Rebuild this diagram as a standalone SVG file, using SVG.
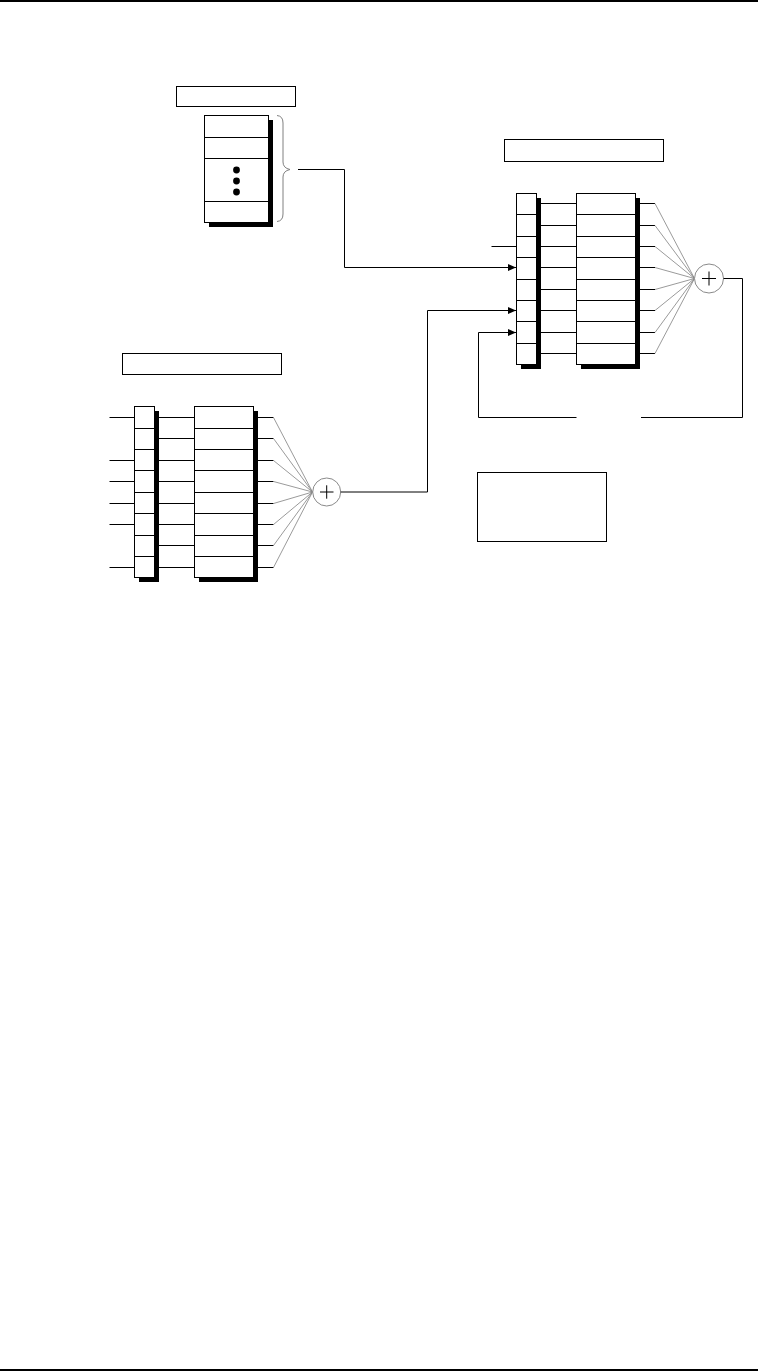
<svg xmlns="http://www.w3.org/2000/svg" width="758" height="1371" viewBox="0 0 758 1371">
<style>
.box{fill:#fff;stroke:#000;stroke-width:1}
.sh{fill:#000}
.ln{fill:none;stroke:#000;stroke-width:1}
.fan{fill:none;stroke:#808080;stroke-width:0.8}
.sum{fill:#fff;stroke:#8a8a8a;stroke-width:1}
</style>
<defs>
<marker id="arr" markerWidth="8" markerHeight="7" refX="8" refY="3.5" orient="auto" markerUnits="userSpaceOnUse">
<path d="M0,0 L8,3.5 L0,7 z" fill="#000"/>
</marker>
</defs>
<rect width="758" height="1371" fill="#fff"/>
<line x1="0" y1="1" x2="758" y2="1" stroke="#000" stroke-width="2"/>
<line x1="0" y1="1370" x2="758" y2="1370" stroke="#000" stroke-width="2"/>

<g id="label1"><rect class="box" x="176.5" y="86.5" width="119" height="20"/></g>
<g id="label2"><rect class="box" x="504.5" y="139.5" width="159" height="22"/></g>
<g id="label3"><rect class="box" x="122.5" y="353.5" width="159" height="21"/></g>
<g id="notebox"><rect class="box" x="477.5" y="472.5" width="129" height="69"/></g>

<g id="smallstack">
<rect class="sh" x="209" y="120" width="64" height="107"/>
<rect class="box" x="204.5" y="115.5" width="64" height="107"/>
<path class="ln" d="M204.5,137.5H268.5M204.5,158.5H268.5M204.5,201.5H268.5"/>
<circle cx="236.5" cy="170" r="3.4" fill="#000"/>
<circle cx="236.5" cy="181" r="3.4" fill="#000"/>
<circle cx="236.5" cy="192" r="3.4" fill="#000"/>
<path d="M277,115.5 Q283,116 283,123 V162 Q283,168 290,169.5 Q283,171 283,177 V214 Q283,221 277,221.5" fill="none" stroke="#808080" stroke-width="1"/>
</g>

<g id="topfilter">
<rect class="sh" x="521" y="198" width="20" height="171"/>
<rect class="box" x="516.5" y="193.5" width="20" height="171"/>
<path class="ln" d="M516.5,214.5H536.5M516.5,236.5H536.5M516.5,257.5H536.5M516.5,279.5H536.5M516.5,300.5H536.5M516.5,321.5H536.5M516.5,343.5H536.5"/>
<rect class="sh" x="581" y="198" width="59" height="171"/>
<rect class="box" x="576.5" y="193.5" width="59" height="171"/>
<path class="ln" d="M576.5,214.5H635.5M576.5,236.5H635.5M576.5,257.5H635.5M576.5,279.5H635.5M576.5,300.5H635.5M576.5,321.5H635.5M576.5,343.5H635.5"/>
<path class="ln" d="M541,203.5H576.5M541,225.5H576.5M541,246.5H576.5M541,267.5H576.5M541,289.5H576.5M541,310.5H576.5M541,332.5H576.5M541,353.5H576.5"/>
<path class="ln" d="M640,203.5H655M640,225.5H655M640,246.5H655M640,267.5H655M640,289.5H655M640,310.5H655M640,332.5H655M640,353.5H655"/>
<path class="fan" d="M655,203.5L694.5,278.5M655,225.5L694.5,278.5M655,246.5L694.5,278.5M655,267.5L694.5,278.5M655,289.5L694.5,278.5M655,310.5L694.5,278.5M655,332.5L694.5,278.5M655,353.5L694.5,278.5"/>
</g>
<g id="topsum">
<circle class="sum" cx="709" cy="278.5" r="14.5"/>
<path class="ln" d="M702,278.5H716M709,271.5V285.5"/>
</g>

<g id="bottomfilter">
<rect class="sh" x="139" y="411" width="20" height="171"/>
<rect class="box" x="134.5" y="406.5" width="20" height="171"/>
<path class="ln" d="M134.5,428.5H154.5M134.5,449.5H154.5M134.5,470.5H154.5M134.5,492.5H154.5M134.5,513.5H154.5M134.5,535.5H154.5M134.5,556.5H154.5"/>
<rect class="sh" x="199" y="411" width="59" height="171"/>
<rect class="box" x="194.5" y="406.5" width="59" height="171"/>
<path class="ln" d="M194.5,428.5H253.5M194.5,449.5H253.5M194.5,470.5H253.5M194.5,492.5H253.5M194.5,513.5H253.5M194.5,535.5H253.5M194.5,556.5H253.5"/>
<path class="ln" d="M159,417.5H194.5M159,438.5H194.5M159,460.5H194.5M159,481.5H194.5M159,503.5H194.5M159,524.5H194.5M159,545.5H194.5M159,567.5H194.5"/>
<path class="ln" d="M258,417.5H273.5M258,438.5H273.5M258,460.5H273.5M258,481.5H273.5M258,503.5H273.5M258,524.5H273.5M258,545.5H273.5M258,567.5H273.5"/>
<path class="fan" d="M273.5,417.5L312.5,492M273.5,438.5L312.5,492M273.5,460.5L312.5,492M273.5,481.5L312.5,492M273.5,503.5L312.5,492M273.5,524.5L312.5,492M273.5,545.5L312.5,492M273.5,567.5L312.5,492"/>
<path class="ln" d="M109.5,417.5H134.5M109.5,460.5H134.5M109.5,481.5H134.5M109.5,503.5H134.5M109.5,524.5H134.5M109.5,567.5H134.5"/>
</g>
<g id="bottomsum">
<circle class="sum" cx="326.7" cy="492" r="14"/>
<path class="ln" d="M320,492H333.5M326.7,485.3V498.7"/>
</g>

<g id="connectors">
<path class="ln" d="M298,169.5H344.5V267.5H516" marker-end="url(#arr)"/>
<path class="ln" d="M491.5,246.5H516.5"/>
<path class="ln" d="M340.7,492H427.5V310.5H516" marker-end="url(#arr)"/>
<path class="ln" d="M723.5,278.5H742.5V417.5H641"/>
<path class="ln" d="M576.5,417.5H478.5V332.5H516" marker-end="url(#arr)"/>
</g>
</svg>
